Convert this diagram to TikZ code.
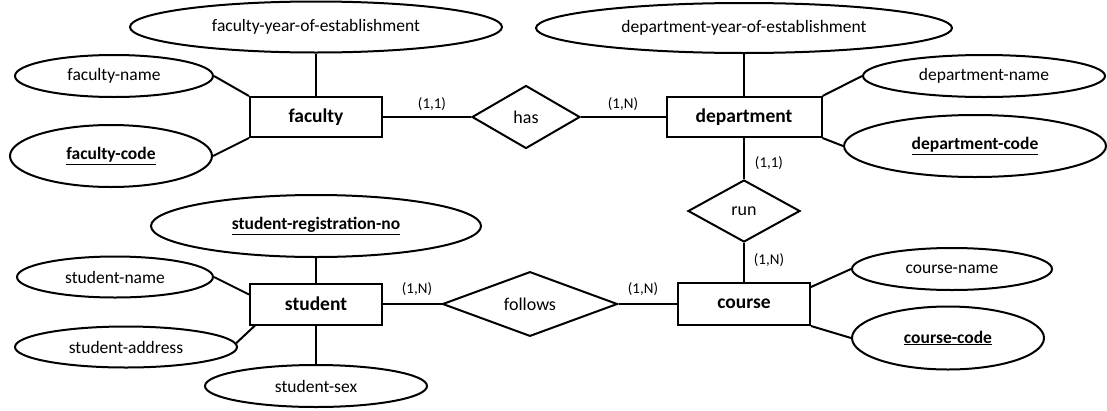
\documentclass[tikz,border=0pt]{standalone}
\usepackage{fontspec}
\setmainfont{Carlito}
\usetikzlibrary{shapes.geometric}
\begin{document}
\begin{tikzpicture}[x=1pt,y=-1pt,
  every node/.style={inner sep=0pt},
  lw/.style={line width=2pt},
  entity/.style={draw,lw,rectangle,font=\fontsize{19.5}{22}\selectfont\bfseries},
  attr/.style={draw,lw,ellipse,font=\fontsize{17.5}{20}\selectfont},
  keyattr/.style={draw,lw,ellipse,font=\fontsize{17.5}{20}\selectfont\bfseries},
  rel/.style={draw,lw,diamond,font=\fontsize{18}{20}\selectfont},
  card/.style={font=\fontsize{15}{17}\selectfont},
  conn/.style={lw}]
\useasboundingbox (0,0) rectangle (1107,410);
\fill[white] (0,0) rectangle (1107,410);

% entities
\node[entity,minimum width=132pt,minimum height=40pt] (faculty) at (316,117) {faculty};
\node[entity,minimum width=155pt,minimum height=40pt] (department) at (744,117) {department};
\node[entity,minimum width=132pt,minimum height=42pt] (course) at (744,304) {course};
\node[entity,minimum width=132pt,minimum height=41pt] (student) at (316,304) {student};

% relationships
\node[rel,minimum width=108pt,minimum height=63pt] (has) at (526,117) {has};
\node[rel,minimum width=112pt,minimum height=62pt] (run) at (744,211) {run};
\node[rel,minimum width=175pt,minimum height=64pt] (follows) at (530,304) {follows};

% attributes
\node[attr,minimum width=372pt,minimum height=51pt] (fyear) at (316,27) {faculty-year-of-establishment};
\node[attr,minimum width=198pt,minimum height=42pt] (fname) at (114,76) {faculty-name};
\node[keyattr,minimum width=202pt,minimum height=62pt] (fcode) at (111,156) {\underline{faculty-code}};
\node[attr,minimum width=416pt,minimum height=50pt] (dyear) at (744,28) {department-year-of-establishment};
\node[attr,minimum width=242pt,minimum height=42pt] (dname) at (984,76) {department-name};
\node[keyattr,minimum width=262pt,minimum height=62pt] (dcode) at (975,146) {\underline{department-code}};
\node[attr,minimum width=200pt,minimum height=42pt] (cname) at (952,269) {course-name};
\node[keyattr,minimum width=192pt,minimum height=63pt] (ccode) at (948,338) {\underline{course-code}};
\node[keyattr,minimum width=330pt,minimum height=62pt] (sreg) at (316,226) {\underline{student-registration-no}};
\node[attr,minimum width=196pt,minimum height=41pt] (sname) at (115,277) {student-name};
\node[attr,minimum width=222pt,minimum height=41pt] (saddr) at (126,347) {student-address};
\node[attr,minimum width=222pt,minimum height=42pt] (ssex) at (316,386) {student-sex};

% connectors
\draw[conn] (fyear.south) -- (faculty.north);
\draw[conn] (fname.east) -- (faculty.north west);
\draw[conn] (fcode.east) -- (faculty.south west);
\draw[conn] (faculty.east) -- (has.west);
\draw[conn] (has.east) -- (department.west);
\draw[conn] (dyear.south) -- (department.north);
\draw[conn] (dname.west) -- (department.north east);
\draw[conn] (dcode.west) -- (department.south east);
\draw[conn] (department.south) -- (run.north);
\draw[conn] (run.south) -- (course.north);
\draw[conn] ([yshift=-5pt]course.north east) -- (cname.west);
\draw[conn] (course.south east) -- (ccode.west);
\draw[conn] (student.east) -- (follows.west);
\draw[conn] (follows.east) -- (course.west);
\draw[conn] (sreg.south) -- (student.north);
\draw[conn] (sname.east) -- ([yshift=-12pt]student.north west);
\draw[conn] (saddr.2) -- ([xshift=6pt]student.south west);
\draw[conn] (student.south) -- (ssex.north);

% cardinalities
\node[card] (c1) at (432,104) {(1,1)};
\node[card] (c2) at (623,104) {(1,N)};
\node[card] (c3) at (769,163) {(1,1)};
\node[card] (c4) at (769,260) {(1,N)};
\node[card] (c5) at (417,289) {(1,N)};
\node[card] (c6) at (643,289) {(1,N)};
\end{tikzpicture}
\end{document}
